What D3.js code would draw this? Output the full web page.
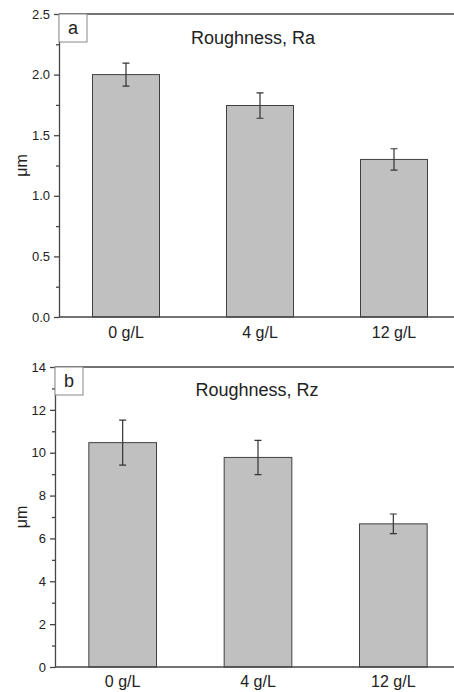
<!DOCTYPE html>
<meta charset="utf-8">
<style>
body { margin: 0; background: #fff; }
text { font-family: "Liberation Sans", Arial, sans-serif; fill: #222; }
.bar { fill: #c0c0c0; stroke: #404040; stroke-width: 1; }
.err { stroke: #333; stroke-width: 1.2; fill: none; }
.axis path, .axis line { stroke: #454545; stroke-width: 1.3; }
</style>
<body>
<script src="https://d3js.org/d3.v7.min.js"></script>
<script>

var categories = ["0 g/L", "4 g/L", "12 g/L"];

var raValues = [2.0, 1.745, 1.30],
    raErrors = [0.095, 0.105, 0.088],
    raTicks = [0, 0.5, 1.0, 1.5, 2.0, 2.5];

var rzValues = [10.47, 9.78, 6.68],
    rzErrors = [1.05, 0.80, 0.46],
    rzTicks = [0, 2, 4, 6, 8, 10, 12, 14];

var width = 454, height = 692;

var svg = d3.select("body").append("svg")
    .attr("width", width)
    .attr("height", height);

drawPanel({
  left: 59, top: 14, bottom: 317,
  values: raValues, errors: raErrors, ticks: raTicks, fmt: d3.format(".1f"),
  letter: "a", title: "Roughness, Ra", titleX: 253, titleY: 44, catY: 338
});

drawPanel({
  left: 55, top: 367, bottom: 667,
  values: rzValues, errors: rzErrors, ticks: rzTicks, fmt: d3.format("d"),
  letter: "b", title: "Roughness, Rz", titleX: 257, titleY: 396, catY: 687
});

function drawPanel(p) {
  var g = svg.append("g");
  var right = 461;

  var x = d3.scaleBand()
      .domain(categories)
      .range([p.left, right])
      .paddingInner(0.5)
      .paddingOuter(0.25);

  var ymax = p.ticks[p.ticks.length - 1];
  var y = d3.scaleLinear()
      .domain([0, ymax])
      .range([p.bottom, p.top]);

  var data = categories.map(function(c, i) {
    return {cat: c, v: p.values[i], e: p.errors[i]};
  });

  // bars
  g.selectAll(".bar")
    .data(data)
    .enter().append("rect")
      .attr("class", "bar")
      .attr("x", function(d) { return x(d.cat); })
      .attr("width", x.bandwidth())
      .attr("y", function(d) { return y(d.v); })
      .attr("height", function(d) { return y(0) - y(d.v); });

  // error bars
  g.selectAll(".err")
    .data(data)
    .enter().append("path")
      .attr("class", "err")
      .attr("d", function(d) {
        var cx = x(d.cat) + x.bandwidth() / 2,
            y1 = y(d.v + d.e), y0 = y(d.v - d.e), w = 3.5;
        return "M" + (cx - w) + "," + y1 + "H" + (cx + w) +
               "M" + cx + "," + y1 + "V" + y0 +
               "M" + (cx - w) + "," + y0 + "H" + (cx + w);
      });

  // minor ticks
  var step = p.ticks[1] - p.ticks[0];
  var minor = p.ticks.slice(0, -1).map(function(t) { return t + step / 2; });
  g.append("g")
      .attr("class", "axis")
      .attr("transform", "translate(" + p.left + ",0)")
      .call(d3.axisLeft(y).tickValues(minor).tickSize(3).tickFormat(""))
      .select(".domain").remove();

  // left axis
  var ya = g.append("g")
      .attr("class", "axis")
      .attr("transform", "translate(" + p.left + ",0)")
      .call(d3.axisLeft(y).tickValues(p.ticks).tickSizeInner(5).tickSizeOuter(0).tickPadding(4).tickFormat(p.fmt));
  ya.selectAll("text")
      .style("font-size", "13px")
      .style("fill", "#222");

  // top and bottom frame lines
  g.append("line")
      .attr("x1", p.left).attr("x2", width)
      .attr("y1", y(ymax)).attr("y2", y(ymax))
      .style("stroke", "#454545").style("stroke-width", 1.3);
  g.append("line")
      .attr("x1", p.left).attr("x2", width)
      .attr("y1", y(0)).attr("y2", y(0))
      .style("stroke", "#454545").style("stroke-width", 1.3);

  // category labels
  g.selectAll(".cat")
    .data(categories)
    .enter().append("text")
      .attr("class", "cat")
      .attr("x", function(d) { return x(d) + x.bandwidth() / 2; })
      .attr("y", p.catY)
      .attr("text-anchor", "middle")
      .style("font-size", "16px")
      .text(function(d) { return d; });

  // y label
  g.append("text")
      .attr("transform", "translate(27," + ((p.top + p.bottom) / 2) + ")rotate(-90)")
      .attr("text-anchor", "middle")
      .style("font-size", "16px")
      .text("μm");

  // panel letter box
  g.append("rect")
      .attr("x", p.left).attr("y", p.top)
      .attr("width", 28).attr("height", 28)
      .style("fill", "#fff").style("stroke", "#8a8a8a").style("stroke-width", 1);
  g.append("text")
      .attr("x", p.left + 14).attr("y", p.top + 20)
      .attr("text-anchor", "middle")
      .style("font-size", "18px")
      .text(p.letter);

  // title
  g.append("text")
      .attr("x", p.titleX).attr("y", p.titleY)
      .attr("text-anchor", "middle")
      .style("font-size", "18px")
      .text(p.title);
}

</script>
